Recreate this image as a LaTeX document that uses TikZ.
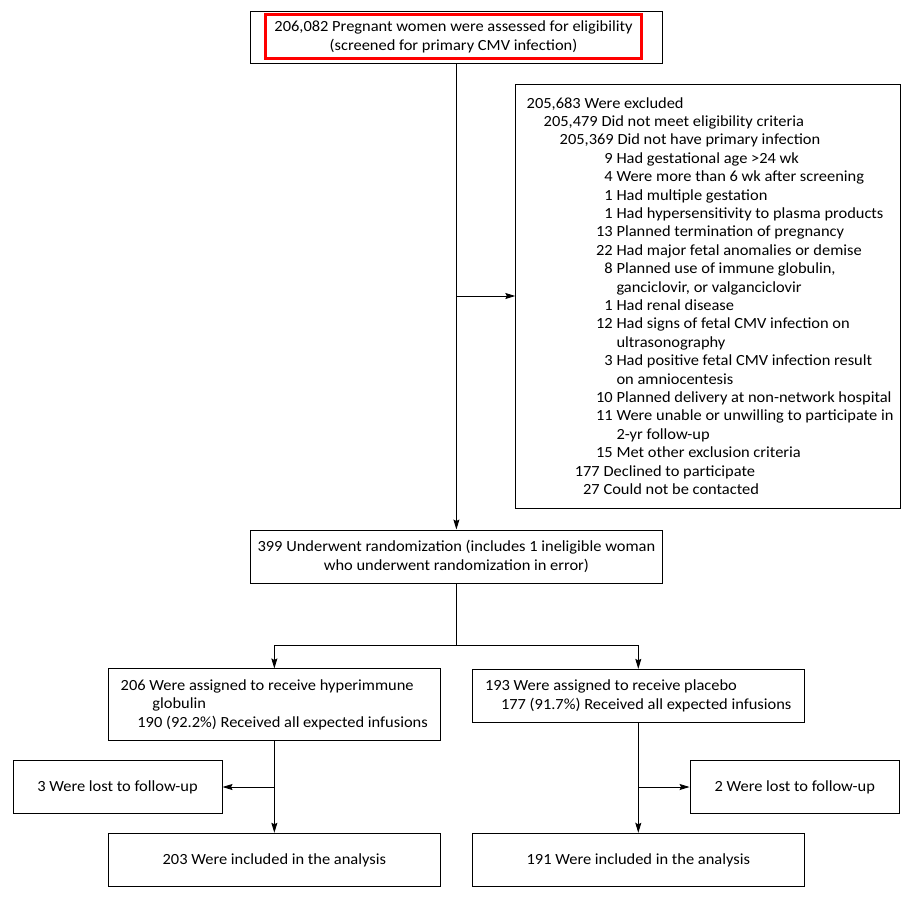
\documentclass[tikz,border=0pt]{standalone}
\usepackage{fontspec}
\setmainfont{Carlito}[FakeStretch=1.06]
\usetikzlibrary{arrows.meta,calc}
\newcommand\xl[3]{\makebox[#1pt][r]{#2\ }#3}
\begin{document}
\begin{tikzpicture}[x=1pt,y=-1pt,
  every node/.style={font=\fontsize{15.5}{18.4}\selectfont, text=black},
  box/.style={draw, line width=1pt, inner sep=0pt},
  redbox/.style={draw=red, line width=3pt, inner sep=0pt, align=center},
  txt/.style={inner sep=0pt, align=left, anchor=west},
  conn/.style={line width=0.9pt},
  arr/.style={line width=0.9pt, -{Stealth[length=10pt,width=6pt,inset=1.5pt]}}
]
\useasboundingbox (0,0) rectangle (912,900);

% top
\node[box, minimum width=412.7pt, minimum height=52.3pt] (top) at (456.4,37.2) {};
\node[redbox, minimum width=376pt, minimum height=44pt] (topred) at (453.5,36.7)
  {206,082 Pregnant women were assessed for eligibility\\(screened for primary CMV infection)};

% exclusion
\node[box, minimum width=385pt, minimum height=424pt] (excl) at (708.3,296) {};
\node[txt] (excltxt) at ($(excl.west)+(13,0)$) {%
\xl{56}{205,683}{Were excluded}\\
\xl{73}{205,479}{Did not meet eligibility criteria}\\
\xl{89}{205,369}{Did not have primary infection}\\
\xl{88}{9}{Had gestational age >24 wk}\\
\xl{88}{4}{Were more than 6 wk after screening}\\
\xl{88}{1}{Had multiple gestation}\\
\xl{88}{1}{Had hypersensitivity to plasma products}\\
\xl{88}{13}{Planned termination of pregnancy}\\
\xl{88}{22}{Had major fetal anomalies or demise}\\
\xl{88}{8}{Planned use of immune globulin,}\\
\xl{88}{}{ganciclovir, or valganciclovir}\\
\xl{88}{1}{Had renal disease}\\
\xl{88}{12}{Had signs of fetal CMV infection on}\\
\xl{88}{}{ultrasonography}\\
\xl{88}{3}{Had positive fetal CMV infection result}\\
\xl{88}{}{on amniocentesis}\\
\xl{88}{10}{Planned delivery at non-network hospital}\\
\xl{88}{11}{Were unable or unwilling to participate in}\\
\xl{88}{}{2-yr follow-up}\\
\xl{88}{15}{Met other exclusion criteria}\\
\xl{75}{177}{Declined to participate}\\
\xl{75}{27}{Could not be contacted}};

% randomization
\node[box, minimum width=412.7pt, minimum height=53pt, align=center] (rand) at (456.4,556.5)
  {399 Underwent randomization (includes 1 ineligible woman\\who underwent randomization in error)};

% assigned
\node[box, minimum width=332.7pt, minimum height=71.7pt] (asgL) at (274.35,704.8) {};
\node[txt] (asgLtxt) at ($(asgL.west)+(13,0)$) {%
206 Were assigned to receive hyperimmune\\
\hspace*{31.7pt}globulin\\
\hspace*{16.7pt}190 (92.2\%) Received all expected infusions};
\node[box, minimum width=332pt, minimum height=52.7pt] (asgR) at (638.3,695.7) {};
\node[txt] (asgRtxt) at ($(asgR.west)+(13,0)$) {%
193 Were assigned to receive placebo\\
\hspace*{16pt}177 (91.7\%) Received all expected infusions};

% lost
\node[box, minimum width=209pt, minimum height=52.6pt] (lostL) at (117.5,787) {3 Were lost to follow-up};
\node[box, minimum width=209.3pt, minimum height=52.6pt] (lostR) at (794.7,787) {2 Were lost to follow-up};

% analysis
\node[box, minimum width=332.7pt, minimum height=53.4pt] (anaL) at (274.35,860) {203 Were included in the analysis};
\node[box, minimum width=332pt, minimum height=53.4pt] (anaR) at (638.3,860) {191 Were included in the analysis};

% connectors
\draw[arr] (top.south) -- (rand.north);
\draw[arr] (top.south |- excl.west) -- (excl.west);
\coordinate (split) at ($(rand.south)+(0,61.5)$);
\draw[conn] (rand.south) -- (split);
\draw[conn] (asgL.north |- split) -- (asgR.north |- split);
\draw[arr] (asgL.north |- split) -- (asgL.north);
\draw[arr] (asgR.north |- split) -- (asgR.north);
\draw[arr] (asgL.south) -- (anaL.north);
\draw[arr] (asgR.south) -- (anaR.north);
\draw[arr] (asgL.south |- lostL.east) -- (lostL.east);
\draw[arr] (asgR.south |- lostR.west) -- (lostR.west);
\end{tikzpicture}
\end{document}
